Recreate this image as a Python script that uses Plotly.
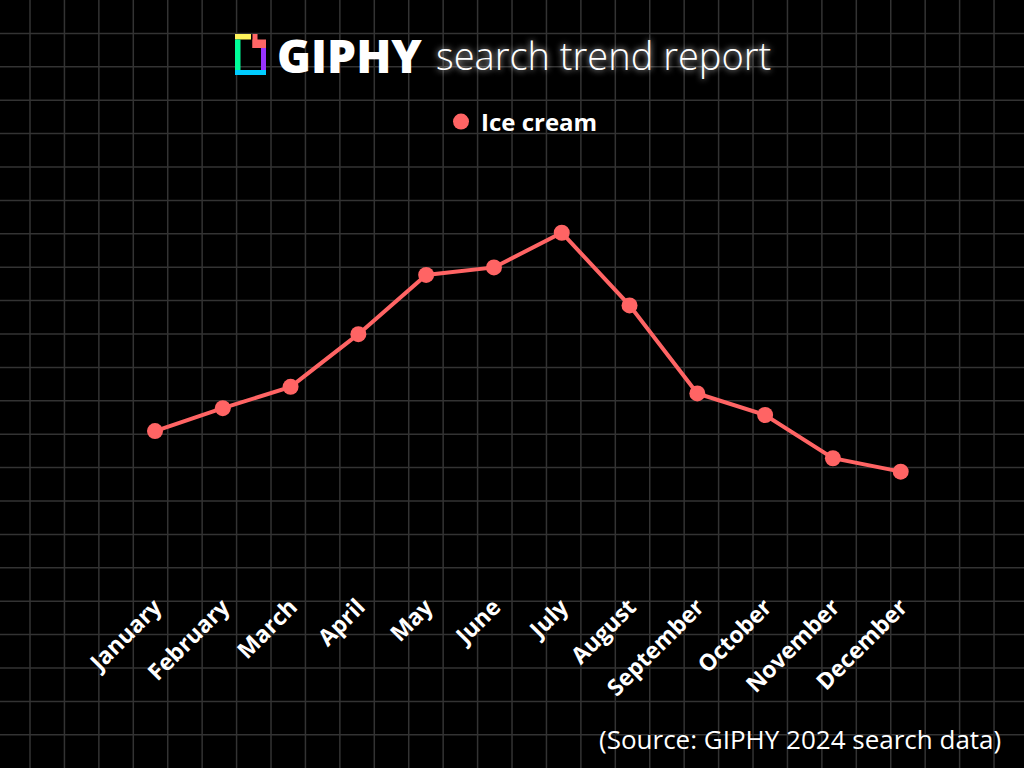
import plotly.graph_objects as go

W, H = 1024, 768

months = ["January", "February", "March", "April", "May", "June",
          "July", "August", "September", "October", "November", "December"]
ice_cream = [39.4, 46.4, 52.9, 69.0, 87.1, 89.4, 100.0, 77.8, 50.9, 44.3, 31.1, 27.0]

series_name = "Ice cream"
line_color = "#ff6464"
grid_color = "#333333"


def px(x):
    return x / W


def py(y):
    return 1 - y / H


fig = go.Figure()
fig.add_trace(go.Scatter(
    x=months, y=ice_cream, mode="lines+markers", name=series_name,
    line=dict(color=line_color, width=4),
    marker=dict(color=line_color, size=16),
    showlegend=False, hoverinfo="x+y",
))
# legend entry shows only the dot
fig.add_trace(go.Scatter(
    x=[None], y=[None], mode="markers", name=series_name,
    marker=dict(color=line_color, size=22),
))

# background grid
shapes = []
k = 0
while 30 + 34.43 * k < W:
    x = px(30 + 34.43 * k)
    shapes.append(dict(type="line", xref="paper", yref="paper", x0=x, x1=x, y0=0, y1=1,
                       line=dict(color=grid_color, width=1.5), layer="below"))
    k += 1
k = 1
while 33.4 * k < H:
    y = py(33.4 * k)
    shapes.append(dict(type="line", xref="paper", yref="paper", x0=0, x1=1, y0=y, y1=y,
                       line=dict(color=grid_color, width=1.5), layer="below"))
    k += 1

# GIPHY logo blocks (pixel boxes)
logo = [
    (235, 34, 251, 39.5, "#fff35c"),
    (235, 39.5, 240.5, 70, "#00ff99"),
    (235, 70, 266, 75, "#00ccff"),
    (261, 48, 266, 70, "#9933ff"),
    (252.5, 34, 257.5, 48, "#ff6666"),
    (252.5, 39.5, 266, 48, "#ff6666"),
]
for x0, y0, x1, y1, c in logo:
    shapes.append(dict(type="rect", xref="paper", yref="paper",
                       x0=px(x0), x1=px(x1), y0=py(y1), y1=py(y0),
                       fillcolor=c, line=dict(width=0), layer="above"))

annotations = [
    dict(text="GIPHY", x=px(275), y=py(55), xref="paper", yref="paper",
         xanchor="left", yanchor="middle", showarrow=False,
         font=dict(family="Open Sans", size=46, color="white", weight=800)),
    dict(text="search trend report", x=px(434), y=py(55), xref="paper", yref="paper",
         xanchor="left", yanchor="middle", showarrow=False,
         font=dict(family="Open Sans", size=38, color="white", weight=300,
                   shadow="0 0 6px rgba(255,255,255,0.9)")),
    dict(text="(Source: GIPHY 2024 search data)", x=px(1003), y=py(739),
         xref="paper", yref="paper", xanchor="right", yanchor="middle", showarrow=False,
         font=dict(family="Open Sans", size=26, color="white")),
]

fig.update_layout(
    width=W, height=H,
    margin=dict(l=0, r=0, t=0, b=0, autoexpand=False),
    paper_bgcolor="black",
    plot_bgcolor="rgba(0,0,0,0)",
    shapes=shapes,
    annotations=annotations,
    legend=dict(orientation="h", x=px(522), y=py(122), xanchor="center", yanchor="middle",
                font=dict(family="Open Sans", size=24, color="white", weight="bold"),
                bgcolor="rgba(0,0,0,0)"),
    xaxis=dict(
        domain=[px(121.1), px(934.6)], range=[-0.5, 11.5], automargin=False,
        showgrid=False, zeroline=False, showline=False,
        tickangle=-45, ticks="", ticklabelstandoff=28,
        tickfont=dict(family="Open Sans", size=23, color="white", weight="bold"),
    ),
    yaxis=dict(
        domain=[py(560), py(200)], range=[0, 110], automargin=False,
        showgrid=False, zeroline=False, showline=False, showticklabels=False,
    ),
)

fig.write_html("out.html", config={"displayModeBar": False},
               post_script="document.body.style.margin = '0';")
